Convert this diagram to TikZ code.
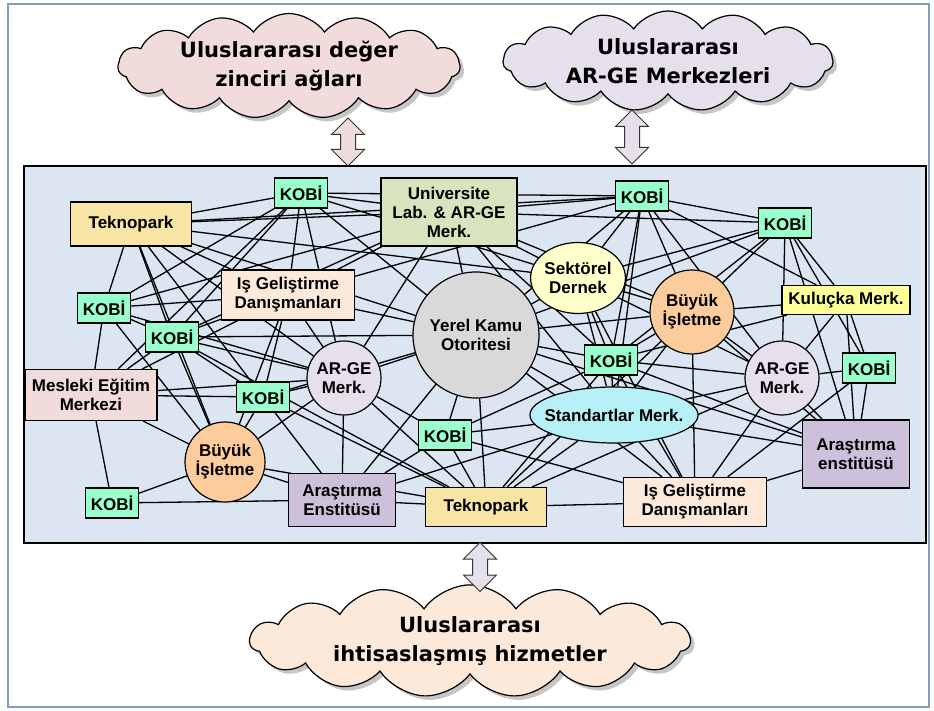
\documentclass[tikz,border=0pt]{standalone}
\usepackage{fontspec}
\setmainfont{Liberation Sans}
\newfontfamily\cloudfont{DejaVu Sans}
\usetikzlibrary{shapes.geometric,shapes.symbols,shapes.arrows,shadows}

\definecolor{frameblue}{HTML}{7F9CC6}
\definecolor{panelblue}{HTML}{DCE6F2}
\definecolor{cloudpink}{HTML}{F2DCDB}
\definecolor{cloudlilac}{HTML}{E6E0EC}
\definecolor{cloudpeach}{HTML}{FDE9D9}
\definecolor{kobigreen}{HTML}{99FFCC}
\definecolor{teknoyellow}{HTML}{F8E4A4}
\definecolor{unigreen}{HTML}{D7E4BD}
\definecolor{igpeach}{HTML}{FDE9D9}
\definecolor{mespink}{HTML}{F2DCDB}
\definecolor{arpurple}{HTML}{CCC0DA}
\definecolor{kulyellow}{HTML}{FFFF99}
\definecolor{kamugray}{HTML}{D9D9D9}
\definecolor{buyukpeach}{HTML}{FCCC9C}
\definecolor{argelilac}{HTML}{E6E0EC}
\definecolor{sekcream}{HTML}{FFFFCC}
\definecolor{stdcyan}{HTML}{B7F0F7}

\pgfdeclarelayer{panel}
\pgfdeclarelayer{links}
\pgfsetlayers{panel,links,main}

\tikzset{
  box/.style={draw=black, line width=1.2pt, inner sep=2pt, align=center,
    font=\bfseries\fontsize{17}{19}\selectfont},
  kobi/.style={box, fill=kobigreen, minimum width=53pt, minimum height=30pt},
  tekno/.style={box, fill=teknoyellow, minimum width=121pt, minimum height=44pt},
  disc/.style={box, circle, inner sep=0pt},
  oval/.style={box, ellipse, inner sep=0pt},
  cloudbox/.style={cloud, cloud puffs=15, cloud puff arc=110, cloud ignores aspect,
    draw=black, line width=1.2pt, inner xsep=8pt, inner ysep=0pt,
    minimum width=342pt, minimum height=100pt, align=center,
    drop shadow={opacity=0.45, shadow xshift=4pt, shadow yshift=-4pt},
    font=\cloudfont\bfseries\fontsize{21}{29}\selectfont},
  updown/.style={double arrow, shape border rotate=90, draw=black!80, line width=1pt,
    inner sep=7pt, minimum width=32pt, minimum height=48pt, double arrow head extend=9pt},
  link/.style={line width=1.3pt, black},
}

\begin{document}
\begin{tikzpicture}[x=1pt, y=-1pt]
  \useasboundingbox (0,0) rectangle (934,711);

  \begin{pgfonlayer}{panel}
    \draw[frameblue, line width=2.5pt] (8,4) rectangle (929,707);
    \draw[fill=panelblue, line width=1.2pt] (24,166) rectangle (926,543);
  \end{pgfonlayer}

  % clouds and arrows
  \node[cloudbox, fill=cloudpink] (zincir) at (289,66) {Uluslararası değer\\zinciri ağları};
  \node[cloudbox, fill=cloudlilac, minimum width=330pt] (argeint) at (668,61) {Uluslararası\\AR-GE Merkezleri};
  \node[cloudbox, fill=cloudpeach, minimum width=440pt, minimum height=110pt] (hizmet) at (470,641) {Uluslararası\\ihtisaslaşmış hizmetler};
  \node[updown, fill=cloudpink] (a1) at (348,142) {};
  \node[updown, fill=cloudlilac, minimum height=54pt] (a2) at (632,137) {};
  \node[updown, fill=cloudlilac, minimum height=49pt] (a3) at (480,567) {};

  % network nodes
  \node[tekno] (t1) at (131,224) {Teknopark};
  \node[tekno, minimum height=39pt] (t2) at (486,507) {Teknopark};
  \node[kobi] (k1) at (301,193) {KOBİ};
  \node[kobi] (k2) at (104,308) {KOBİ};
  \node[kobi] (k3) at (172,337) {KOBİ};
  \node[kobi] (k4) at (642,196) {KOBİ};
  \node[kobi] (k5) at (785,223) {KOBİ};
  \node[kobi] (k6) at (263,397) {KOBİ};
  \node[kobi] (k7) at (112,503) {KOBİ};
  \node[kobi] (k8) at (445,435) {KOBİ};
  \node[kobi] (k9) at (611,360) {KOBİ};
  \node[kobi] (k10) at (869,368) {KOBİ};
  \node[box, fill=unigreen, minimum width=136pt, minimum height=68pt] (uni) at (449,212) {Universite\\Lab. \& AR-GE\\Merk.};
  \node[box, fill=igpeach, minimum width=133pt, minimum height=50pt] (ig1) at (288,295) {Iş Geliştirme\\Danışmanları};
  \node[box, fill=igpeach, minimum width=143pt, minimum height=49pt] (ig2) at (695,502) {Iş Geliştirme\\Danışmanları};
  \node[box, fill=mespink, minimum width=132pt, minimum height=51pt] (mes) at (91,395) {Mesleki Eğitim\\Merkezi};
  \node[box, fill=arpurple, minimum width=107pt, minimum height=53pt] (ar1) at (342,500) {Araştırma\\Enstitüsü};
  \node[box, fill=arpurple, minimum width=107pt, minimum height=68pt] (ar2) at (856,454) {Araştırma\\enstitüsü};
  \node[box, fill=kulyellow, minimum width=128pt, minimum height=29pt] (kul) at (846,300) {Kuluçka Merk.};
  \node[disc, fill=kamugray, minimum size=126pt] (yerel) at (476,335) {Yerel Kamu\\Otoritesi};
  \node[disc, fill=buyukpeach, minimum size=84pt] (bi2) at (692,312) {Büyük\\İşletme};
  \node[disc, fill=buyukpeach, minimum size=80pt] (bi1) at (225,462) {Büyük\\İşletme};
  \node[disc, fill=argelilac, minimum size=74pt] (arge1) at (344,378) {AR-GE\\Merk.};
  \node[disc, fill=argelilac, minimum size=74pt] (arge2) at (782,378) {AR-GE\\Merk.};
  \node[oval, fill=sekcream, minimum width=90pt, minimum height=71pt] (sek) at (578,278) {Sektörel\\Dernek};
  \node[oval, fill=stdcyan, minimum width=152pt, minimum height=56pt, inner xsep=-10pt] (std) at (614,415) {Standartlar Merk.};

  % the web of links
  \begin{pgfonlayer}{links}
    \foreach \a/\b in {t1/k1, t1/uni, t1/k4, t1/ig1, t1/yerel, t1/k2, t1/k3, t1/bi1, t1/arge1, t1/sek, t1/k6,
      k1/uni, k1/k4, k1/k2, k1/ig1, k1/arge1, k1/yerel, k1/k3, k1/sek, k1/mes,
      uni/k4, uni/k5, uni/k2, uni/k3, uni/ig1, uni/yerel, uni/sek, uni/arge1, uni/bi2, uni/std, uni/k9,
      k4/k5, k4/sek, k4/bi2, k4/kul, k4/yerel, k4/arge2, k4/std, k4/k9, k4/ig1,
      k5/kul, k5/bi2, k5/sek, k5/arge2, k5/yerel, k5/k9, k5/ar2, k5/k10,
      kul/bi2, kul/k10, kul/arge2, kul/ar2, kul/k9,
      bi2/sek, bi2/arge2, bi2/k9, bi2/std, bi2/ig2, bi2/ar2, bi2/yerel, bi2/t2,
      sek/yerel, sek/k9, sek/std, sek/ig2, sek/arge2,
      yerel/ig1, yerel/arge1, yerel/k9, yerel/std, yerel/t2, yerel/k8, yerel/ar2, yerel/k6, yerel/ar1, yerel/ig2, yerel/k3,
      k9/arge2, k9/std, k9/ig2, k9/t2, k9/ar2, k9/k8,
      arge2/k10, arge2/ar2, arge2/ig2, arge2/std, arge2/t2,
      k10/ar2, k10/ig2,
      std/ig2, std/t2, std/k8, std/ar1, std/ar2,
      ig2/t2, ig2/k8, ig2/ar2,
      t2/ar1, t2/k8, t2/arge1, t2/bi1, t2/k6,
      ar1/arge1, ar1/bi1, ar1/k7, ar1/k8, ar1/k6,
      arge1/ig1, arge1/k6, arge1/bi1, arge1/k3, arge1/k2, arge1/mes, arge1/k8,
      k6/mes, k6/bi1, k6/ig1, k6/k3,
      mes/k2, mes/k3, mes/bi1, mes/k7, mes/ig1,
      bi1/k7, bi1/k3, bi1/ig1, bi1/k2,
      k2/ig1, k2/k3, k3/ig1, k3/t2}
      \draw[link] (\a) -- (\b);
  \end{pgfonlayer}
\end{tikzpicture}
\end{document}
